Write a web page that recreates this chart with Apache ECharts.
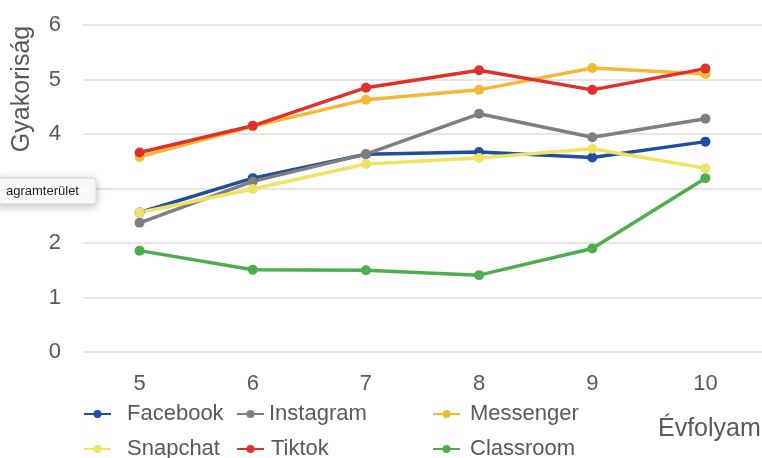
<!DOCTYPE html>
<html><head><meta charset="utf-8">
<script src="https://cdn.jsdelivr.net/npm/echarts@6/dist/echarts.min.js"></script>
<style>html,body{margin:0;padding:0;background:#fff}#c{width:762px;height:458px}</style>
</head><body><div id="c"></div>
<script>
var categories = ['5', '6', '7', '8', '9', '10'];
var facebook  = [2.56, 3.19, 3.63, 3.67, 3.57, 3.86];
var instagram = [2.37, 3.13, 3.63, 4.37, 3.94, 4.28];
var messenger = [3.58, 4.14, 4.63, 4.81, 5.21, 5.10];
var snapchat  = [2.56, 2.99, 3.45, 3.56, 3.73, 3.37];
var tiktok    = [3.66, 4.15, 4.85, 5.17, 4.81, 5.20];
var classroom = [1.86, 1.51, 1.50, 1.41, 1.90, 3.19];
var yTicks = [0, 1, 2, 3, 4, 5, 6];

var FONT = '"Liberation Sans", Arial, sans-serif';
var TXT = '#595959';
function s(name, data, color) {
  return { name: name, type: 'line', data: data, symbol: 'circle', symbolSize: 10,
    lineStyle: { width: 3.5, color: color }, itemStyle: { color: color }, z: 2 };
}
function lg(name, left, top, padLeft) {
  return { orient: 'horizontal', left: left, top: top, itemWidth: 27, itemHeight: 10, padding: 0,
    data: [name], textStyle: { fontFamily: FONT, fontSize: 22, color: TXT, padding: [0, 0, 0, padLeft] } };
}
var chart = echarts.init(document.getElementById('c'));
chart.setOption({
  animation: false,
  backgroundColor: '#fff',
  grid: { left: 83, right: 0, top: 25, bottom: 106 },
  xAxis: { type: 'category', data: categories, boundaryGap: true,
    axisLine: { show: false }, axisTick: { show: false },
    axisLabel: { fontFamily: FONT, fontSize: 22, color: TXT, margin: 21 } },
  yAxis: { type: 'value', min: yTicks[0], max: yTicks[yTicks.length - 1], interval: 1,
    axisLine: { show: false }, axisTick: { show: false },
    axisLabel: { fontFamily: FONT, fontSize: 22, color: TXT, margin: 22 },
    splitLine: { lineStyle: { color: '#e3dcdc', width: 1.5 } } },
  legend: [
    lg('Facebook', 83, 403, 11),
    lg('Instagram', 236, 403, 0),
    lg('Messenger', 432, 403, 5),
    lg('Snapchat', 83, 438, 11),
    lg('Tiktok', 236, 438, 2),
    lg('Classroom', 432, 438, 5)
  ],
  series: [
    s('Facebook', facebook, '#1f4f9e'),
    s('Instagram', instagram, '#7f7f7f'),
    s('Messenger', messenger, '#f5b835'),
    s('Snapchat', snapchat, '#efe363'),
    s('Tiktok', tiktok, '#e1302a'),
    s('Classroom', classroom, '#4caf4c')
  ],
  graphic: [
    { type: 'text', x: 22, y: 89, rotation: Math.PI / 2,
      style: { text: 'Gyakoriság', font: '25px ' + FONT, fill: TXT, align: 'center', verticalAlign: 'middle' } },
    { type: 'text', x: 658, y: 429,
      style: { text: 'Évfolyam', font: '25px ' + FONT, fill: TXT, align: 'left', verticalAlign: 'middle' } },
    { type: 'rect', shape: { x: -4, y: 178, width: 100, height: 26, r: 3 }, z: 100,
      style: { fill: '#fbfbfb', stroke: '#d8d8d8', lineWidth: 1, shadowBlur: 10, shadowColor: 'rgba(0,0,0,0.25)', shadowOffsetY: 2 } },
    { type: 'text', x: 6, y: 191, z: 101,
      style: { text: 'agramterület', font: '13px ' + FONT, fill: '#222', align: 'left', verticalAlign: 'middle' } }
  ]
});
</script></body></html>
